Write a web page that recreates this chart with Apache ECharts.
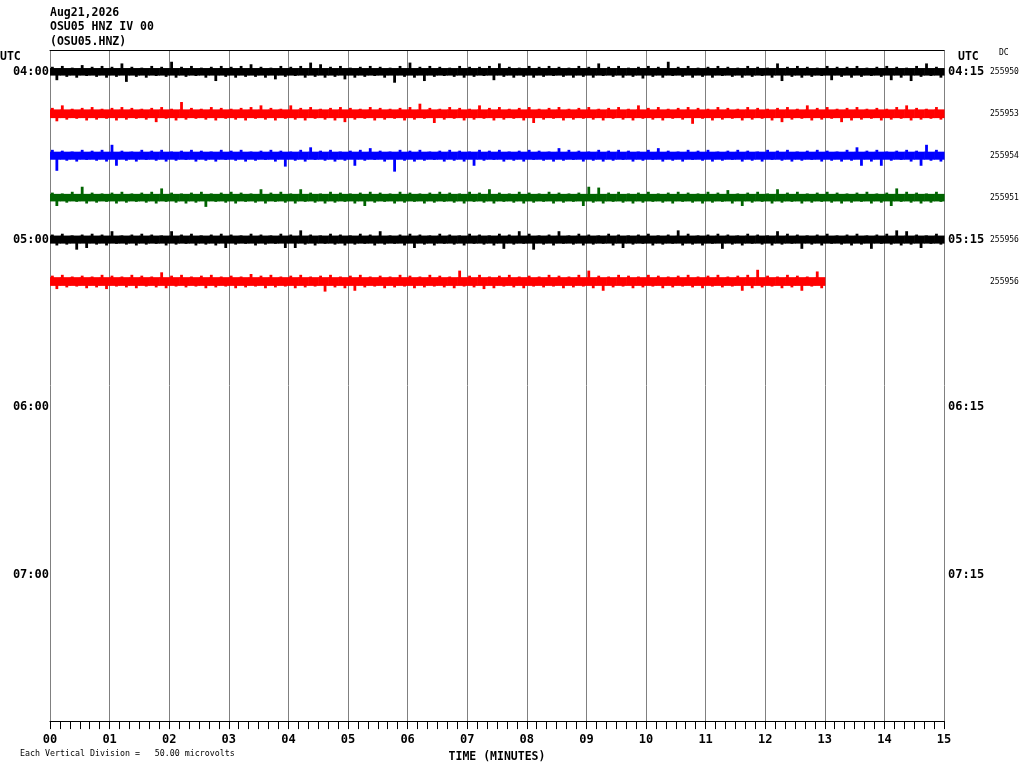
<!DOCTYPE html>
<html>
<head>
<meta charset="utf-8">
<title>OSU05 HNZ IV 00</title>
<script src="https://cdn.jsdelivr.net/npm/echarts@6/dist/echarts.min.js"></script>
<style>
html, body { margin: 0; padding: 0; background: #fff; }
#chart { width: 1024px; height: 768px; }
</style>
</head>
<body>
<div id="chart"></div>
<script>
/*helicorder data: one row per 15 minutes, 10 second bins, peak up / peak down in microvolts*/
var minuteLabels = ['00','01','02','03','04','05','06','07','08','09','10','11','12','13','14','15'];
var startLabels = ['04:00', '05:00', '06:00', '07:00'];
var endLabels = ['04:15', '05:15', '06:15', '07:15'];
var dcValues = ['255950', '255953', '255954', '255951', '255956', '255956'];
var traceColors = ['#000000', '#ff0000', '#0000ff', '#006400', '#000000', '#ff0000'];
var coreAmp = [4.5, 5.2, 4.8, 4.5, 4.8, 5.2];

var up1 = [6,7,5,8,6,7,6,10,6,5, 7,6,12,6,7,5,6,7,6,7, 9,6,5,7,6,7,11,9,6,7, 5,6,7,6,5,7,11,6,7,6, 5,7,6,6,7,10,6,5,7,6, 7,6,5,7,6,10,6,7,5,6, 7,6,12,6,7,5,6,7,6,5, 7,6,5,10,6,7,6,5,7,6, 6,7,5,6,7,6,5,7,10,6];
var down1 = [10,6,7,5,6,7,6,12,6,7, 5,6,7,6,5,7,11,6,7,6, 6,7,9,6,5,7,6,7,6,9, 7,6,5,7,13,6,7,11,6,5, 6,7,6,5,10,6,7,6,7,6, 5,6,7,6,7,5,6,7,6,8, 6,7,5,6,7,6,7,5,6,7, 6,5,7,11,6,7,6,5,10,6, 7,6,5,6,10,7,11,6,5,7];
var up2 = [7,10,6,7,8,6,7,8,7,6, 7,8,6,14,7,6,8,7,6,7, 8,10,7,6,10,7,8,6,7,8, 7,6,8,7,6,7,8,12,7,6, 8,7,6,10,7,8,6,7,8,6, 7,8,6,7,8,6,7,8,6,10, 7,8,6,7,8,7,6,8,7,6, 8,7,6,7,8,6,10,7,8,6, 7,8,6,7,6,8,10,7,6,8];
var down2 = [9,7,6,8,7,6,8,7,6,7, 10,6,8,7,6,7,8,6,7,8, 6,7,8,6,7,8,6,7,8,10, 7,6,8,7,6,8,7,6,11,7, 6,8,7,6,8,7,6,8,11,7, 6,8,7,6,7,8,6,7,8,6, 7,8,6,7,12,6,8,7,6,8, 7,6,8,10,7,6,8,7,6,10, 8,7,6,8,7,6,8,7,6,7];
var up3 = [7,6,5,7,6,7,13,6,5,7, 6,7,5,6,7,6,5,7,6,7, 5,6,7,6,5,7,10,6,7,5, 6,7,9,6,5,7,6,7,5,6, 7,6,5,7,6,7,5,6,7,6, 5,9,7,6,5,7,6,7,6,5, 7,9,6,5,7,6,7,5,6,7, 6,5,7,6,7,5,6,7,6,5, 7,10,6,7,5,6,7,6,13,7];
var down3 = [18,6,7,5,6,7,12,6,7,5, 6,7,6,5,7,6,7,5,6,7, 6,5,7,13,6,7,5,6,7,6, 12,6,5,7,19,6,7,6,5,7, 6,7,12,6,5,7,6,7,5,6, 7,6,5,7,6,7,6,5,7,6, 5,7,6,7,5,6,7,6,5,7, 6,7,5,6,7,6,5,7,6,7, 6,12,7,12,6,5,7,12,6,7];
var up4 = [6,5,7,13,6,5,6,7,5,6, 7,11,6,5,6,7,5,6,7,6, 5,10,6,7,5,10,6,5,7,6, 5,6,7,6,5,7,6,5,6,7, 6,5,7,6,10,6,5,7,6,5, 7,6,5,6,13,12,6,7,5,6, 7,5,6,7,6,5,7,6,9,5, 6,7,5,10,6,7,5,6,7,6, 5,6,7,5,6,11,7,6,5,7];
var down4 = [10,6,5,7,6,5,7,6,5,6, 7,5,6,7,6,11,5,6,7,5, 6,7,5,6,7,5,6,7,6,5, 7,10,6,5,7,6,5,7,6,5, 6,7,5,6,7,5,6,7,6,5, 7,6,5,10,6,7,5,6,7,6, 5,6,7,5,6,7,6,5,7,10, 6,5,7,6,5,7,6,5,6,7, 6,5,7,6,10,5,6,7,6,5];
var up5 = [6,7,5,6,7,6,10,5,6,7, 6,5,10,6,7,5,6,7,6,5, 7,6,5,7,6,11,6,5,7,6, 5,7,6,10,5,6,7,6,5,7, 6,5,7,6,5,7,6,10,7,5, 6,10,5,7,6,5,7,6,5,6, 7,5,6,11,7,5,6,7,6,5, 7,6,5,10,7,6,5,6,7,5, 6,7,5,6,7,11,10,6,5,7];
var down5 = [7,6,12,10,6,7,5,6,7,6, 5,7,6,5,7,6,7,10,6,5, 7,6,5,10,10,6,7,5,6,7, 6,5,7,6,5,7,10,6,7,5, 6,7,5,6,7,11,6,5,12,6, 7,5,6,7,6,5,7,10,6,5, 7,6,5,7,6,7,5,11,6,7, 5,6,7,6,5,11,6,7,5,6, 7,6,11,5,6,7,6,10,5,6];
var up6 = [7,8,6,7,6,8,7,6,8,7, 6,11,7,8,6,7,8,6,7,6, 9,7,8,6,7,8,6,7,8,6, 7,8,6,7,6,8,7,6,8,7, 6,13,7,8,6,7,8,6,7,6, 8,7,6,8,13,7,6,8,7,6, 8,7,6,7,8,6,7,8,6,7, 8,14,7,6,8,7,6,12];
var down6 = [9,7,6,8,7,9,6,7,8,6, 7,8,6,7,6,8,7,6,8,7, 6,8,7,6,8,7,6,12,7,8, 11,7,6,8,7,6,8,7,6,7, 8,6,7,9,8,6,7,8,6,7, 6,8,7,6,8,11,7,6,8,7, 6,8,7,6,7,8,6,7,6,11, 8,7,6,8,7,11,6,8];

var ups = [up1, up2, up3, up4, up5, up6];
var downs = [down1, down2, down3, down4, down5, down6];

var ROW = 50;          // microvolts per vertical division (row spacing)
var BIN = 1 / 6;       // 10 seconds, in minutes
var MONO = '"DejaVu Sans Mono", "Liberation Mono", monospace';

var chart = echarts.init(document.getElementById('chart'), null, { renderer: 'canvas' });

function renderTrace(params, api) {
    var k = params.seriesIndex;
    var c = k * ROW;
    var t = api.value(0), u = api.value(1), d = api.value(2);
    var core = coreAmp[k];
    var col = traceColors[k];
    var p0 = api.coord([t, c - core]);
    var p1 = api.coord([t + BIN, c + core]);
    // up peak early in the bin, down peak later in the bin
    var a0 = api.coord([t + 0.04, c]), a1 = api.coord([t + 0.04, c - u]);
    var b0 = api.coord([t + 0.115, c]), b1 = api.coord([t + 0.115, c + d]);
    return {
        type: 'group',
        children: [
            { type: 'rect', shape: { x: p0[0], y: p0[1], width: p1[0] - p0[0] + 0.6, height: p1[1] - p0[1] }, style: { fill: col } },
            { type: 'line', shape: { x1: a0[0], y1: a0[1], x2: a1[0], y2: a1[1] }, style: { stroke: col, lineWidth: 2.8 } },
            { type: 'line', shape: { x1: b0[0], y1: b0[1], x2: b1[0], y2: b1[1] }, style: { stroke: col, lineWidth: 2.8 } }
        ]
    };
}

var series = ups.map(function (up, k) {
    var data = up.map(function (u, i) { return [i * BIN, u, downs[k][i]]; });
    return {
        type: 'custom',
        name: 'row' + k,
        renderItem: renderTrace,
        data: data,
        silent: true,
        animation: false,
        clip: false
    };
});

function yAxisBase(extra) {
    var ax = {
        type: 'value',
        min: -26,
        max: 774,
        interval: 2,
        inverse: true,
        axisLine: { show: false },
        axisTick: { show: false },
        splitLine: { show: false }
    };
    for (var key in extra) { ax[key] = extra[key]; }
    return ax;
}

var option = {
    animation: false,
    backgroundColor: '#ffffff',
    grid: { left: 50, right: 80, top: 50, bottom: 44, containLabel: false },
    xAxis: [
        {
            type: 'value',
            min: 0,
            max: 15,
            interval: 1,
            position: 'bottom',
            name: 'TIME (MINUTES)',
            nameLocation: 'middle',
            nameGap: 21,
            nameTextStyle: { color: '#000', fontFamily: MONO, fontWeight: 'bold', fontSize: 11.5 },
            axisLine: { show: true, onZero: false, lineStyle: { color: '#000', width: 1 } },
            axisTick: { show: true, length: 8, lineStyle: { color: '#000', width: 1 } },
            minorTick: { show: true, splitNumber: 6, length: 8, lineStyle: { color: '#000', width: 1 } },
            splitLine: { show: true, lineStyle: { color: '#808080', width: 1 } },
            axisLabel: {
                color: '#000', fontFamily: MONO, fontWeight: 'bold', fontSize: 12, margin: 13,
                formatter: function (v) { return minuteLabels[v]; }
            }
        },
        {
            type: 'value',
            min: 0,
            max: 15,
            position: 'top',
            axisLine: { show: true, onZero: false, lineStyle: { color: '#000', width: 1 } },
            axisTick: { show: false },
            axisLabel: { show: false },
            splitLine: { show: false }
        }
    ],
    yAxis: [
        yAxisBase({
            position: 'left',
            axisLabel: {
                color: '#000', fontFamily: MONO, fontWeight: 'bold', fontSize: 12, margin: 1,
                formatter: function (v) { return (v >= 0 && v % 200 === 0) ? startLabels[v / 200] : ''; }
            }
        }),
        yAxisBase({
            position: 'right',
            axisLabel: {
                color: '#000', fontFamily: MONO, fontWeight: 'bold', fontSize: 12, margin: 4,
                formatter: function (v) { return (v >= 0 && v % 200 === 0) ? endLabels[v / 200] : ''; }
            }
        }),
        yAxisBase({
            position: 'right',
            offset: 40,
            axisLabel: {
                color: '#000', fontFamily: MONO, fontSize: 8, margin: 6,
                formatter: function (v) { return (v >= 0 && v % ROW === 0 && v / ROW < dcValues.length) ? dcValues[v / ROW] : ''; }
            }
        })
    ],
    graphic: [
        { type: 'text', left: 50, top: 7, style: { text: 'Aug21,2026', fill: '#000', font: 'bold 11.5px ' + MONO } },
        { type: 'text', left: 50, top: 21, style: { text: 'OSU05 HNZ IV 00', fill: '#000', font: 'bold 11.5px ' + MONO } },
        { type: 'text', left: 50, top: 36, style: { text: '(OSU05.HNZ)', fill: '#000', font: 'bold 11.5px ' + MONO } },
        { type: 'text', left: 0, top: 51, style: { text: 'UTC', fill: '#000', font: 'bold 11.5px ' + MONO } },
        { type: 'text', left: 958, top: 51, style: { text: 'UTC', fill: '#000', font: 'bold 11.5px ' + MONO } },
        { type: 'text', left: 999, top: 49, style: { text: 'DC', fill: '#000', font: '8px ' + MONO } },
        { type: 'text', left: 20, top: 750, style: { text: 'Each Vertical Division =   50.00 microvolts', fill: '#000', font: '8.3px ' + MONO } }
    ],
    series: series
};

chart.setOption(option);
</script>
</body>
</html>
